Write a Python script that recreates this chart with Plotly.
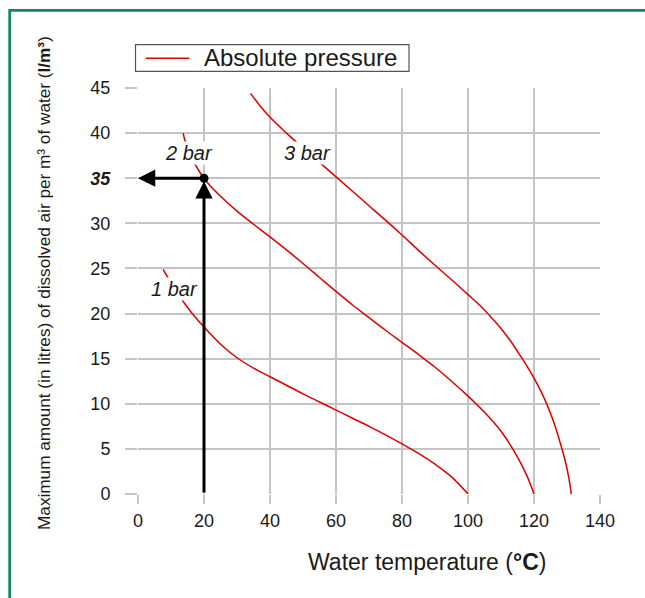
import plotly.graph_objects as go

# ---- data ----
x_1bar = [7.6, 10, 13, 16, 20, 25, 30, 35, 40, 45, 50, 55, 60, 65, 70, 75, 80, 85, 90, 95, 100]
y_1bar = [24.9, 23.4, 21.7, 20.2, 18.5, 16.6, 15.1, 13.95, 13.0, 12.05, 11.1, 10.2, 9.3, 8.4, 7.5,
          6.55, 5.55, 4.5, 3.3, 1.9, 0.0]

x_2bar = [13.7, 14.2, 15, 16, 17, 18.5, 20, 22, 25, 30, 35, 40, 45, 50, 55, 60, 65, 70, 75, 80, 85,
          90, 95, 100, 105, 110, 115, 118, 120]
y_2bar = [40.0, 39.2, 38.4, 37.5, 36.75, 35.8, 35.0, 34.1, 33.0, 31.35, 29.9, 28.5, 27.05, 25.55, 24.0,
          22.45, 20.95, 19.55, 18.15, 16.8, 15.45, 14.05, 12.5, 10.85, 9.05, 6.95, 4.1, 1.9, 0.0]

x_3bar = [34.1, 37, 40, 45, 50, 55, 60, 65, 70, 75, 80, 85, 90, 95, 100, 104, 107, 110, 113, 116, 118,
          120, 122, 124, 126, 128, 129.5, 130.5, 131.3]
y_3bar = [44.4, 43.0, 41.75, 40.0, 38.35, 36.75, 35.15, 33.55, 31.95, 30.35, 28.7, 27.0, 25.35, 23.75,
          22.1, 20.75, 19.6, 18.35, 16.9, 15.25, 14.1, 12.85, 11.45, 9.85, 7.95, 5.6, 3.6, 1.9, 0.0]

curve_labels = ["1 bar", "2 bar", "3 bar"]
label_x = [11.0, 15.6, 51.3]
label_y = [22.7, 37.8, 37.8]

x_ticks = [0, 20, 40, 60, 80, 100, 120, 140]
y_ticks = [0, 5, 10, 15, 20, 25, 30, 35, 40, 45]
y_ticktext = ["0", "5", "10", "15", "20", "25", "30", "<b><i>35</i></b>", "40", "45"]

read_temp = 20
read_air = 35

legend_text = "Absolute pressure"
x_title = "Water temperature (<b>°C</b>)"
y_title = "Maximum amount (in litres) of dissolved air per m³ of water (<b>l/m³</b>)"

FONT = "Liberation Sans, Arial, Helvetica, sans-serif"
TXT = "#1a1a1a"
RED = "#e00000"
GRID = "#c4c4c4"

# plot-area geometry (pixels) used to place paper-referenced decorations
L, R, T, B = 138, 45, 88, 104
W, H = 645, 598
PW, PH = W - L - R, H - T - B


def px(x):
    return (x - L) / PW


def py(y):
    return (H - B - y) / PH


fig = go.Figure()

for xs, ys in [(x_1bar, y_1bar), (x_2bar, y_2bar), (x_3bar, y_3bar)]:
    fig.add_trace(go.Scatter(x=xs, y=ys, mode="lines",
                             line=dict(color=RED, width=1.5, shape="spline", smoothing=1.0),
                             name=legend_text, showlegend=False))

fig.add_trace(go.Scatter(x=[read_temp], y=[read_air], mode="markers",
                         marker=dict(color="black", size=9), showlegend=False))

annotations = []
for t, lx, ly in zip(curve_labels, label_x, label_y):
    annotations.append(dict(x=lx, y=ly, text=f"<i>{t}</i>", showarrow=False, bgcolor="white",
                            font=dict(family=FONT, size=20, color=TXT), xanchor="center", yanchor="middle",
                            borderpad=0))

# vertical reading arrow (from x axis up to the point)
annotations.append(dict(x=read_temp, y=read_air, ax=read_temp, ay=0, xref="x", yref="y", axref="x", ayref="y",
                        text="", showarrow=True, arrowhead=2, arrowsize=1.15, arrowwidth=3, arrowcolor="black",
                        standoff=3))
# horizontal reading arrow (from the point to the y axis)
annotations.append(dict(x=0, y=read_air, ax=read_temp, ay=read_air, xref="x", yref="y", axref="x", ayref="y",
                        text="", showarrow=True, arrowhead=2, arrowsize=1.15, arrowwidth=3, arrowcolor="black",
                        standoff=0))

# axis titles
annotations.append(dict(x=px(427), y=py(562), xref="paper", yref="paper", text=x_title, showarrow=False,
                        font=dict(family=FONT, size=23, color=TXT), xanchor="center", yanchor="middle"))
annotations.append(dict(x=px(44), y=py(283), xref="paper", yref="paper", text=y_title, showarrow=False,
                        textangle=-90, font=dict(family=FONT, size=17.2, color=TXT),
                        xanchor="center", yanchor="middle"))

# legend box
annotations.append(dict(x=px(202), y=py(58), xref="paper", yref="paper", text=legend_text, showarrow=False,
                        font=dict(family=FONT, size=24, color=TXT), xanchor="left", yanchor="middle"))

shapes = [
    dict(type="rect", xref="paper", yref="paper", x0=px(9.7), x1=1.3, y0=-0.4, y1=py(10.3),
         line=dict(color="#17875a", width=2.8), fillcolor="rgba(0,0,0,0)", layer="below"),
    dict(type="rect", xref="paper", yref="paper", x0=px(135.5), x1=px(409), y0=py(71.3), y1=py(44.7),
         line=dict(color="#555", width=1.2), fillcolor="white", layer="above"),
    dict(type="line", xref="paper", yref="paper", x0=px(145.7), x1=px(189.3), y0=py(58.3), y1=py(58.3),
         line=dict(color=RED, width=1.5), layer="above"),
]

fig.update_layout(
    width=W, height=H,
    margin=dict(l=L, r=R, t=T, b=B, autoexpand=False),
    paper_bgcolor="white", plot_bgcolor="white",
    font=dict(family=FONT, size=18, color=TXT),
    annotations=annotations,
    shapes=shapes,
    showlegend=False,
    hovermode=False,
)

fig.update_xaxes(range=[0, 140], tickvals=x_ticks, showgrid=True, gridcolor=GRID, gridwidth=1.5,
                 zeroline=False, showline=False, ticks="outside", ticklen=9, tickwidth=1.5, tickcolor=GRID,
                 tickfont=dict(family=FONT, size=18, color=TXT), ticklabelstandoff=1)
fig.update_yaxes(range=[0, 45], tickvals=y_ticks, ticktext=y_ticktext, showgrid=True, gridcolor=GRID,
                 gridwidth=1.5, zeroline=False, showline=False, ticks="outside", ticklen=12, tickwidth=1.5,
                 tickcolor=GRID, tickfont=dict(family=FONT, size=18, color=TXT), ticklabelstandoff=11)

fig.write_html("out.html", config={"displayModeBar": False},
               post_script="document.body.style.margin='0';")
